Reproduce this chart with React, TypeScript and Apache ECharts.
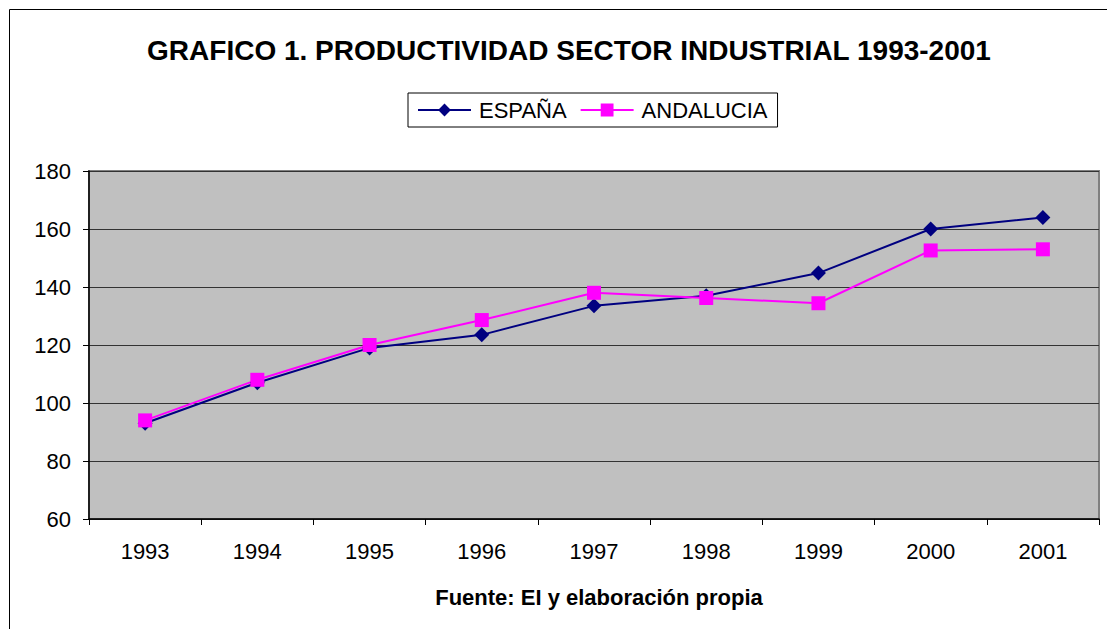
import React, { useEffect, useRef } from "react";
import * as echarts from "echarts";

const years = ["1993", "1994", "1995", "1996", "1997", "1998", "1999", "2000", "2001"];
const espana = [93, 107, 119, 123.5, 133.5, 137, 144.8, 160, 164];
const andalucia = [94, 108, 120, 128.6, 138, 136.2, 134.4, 152.6, 153];
const titleText = "GRAFICO 1. PRODUCTIVIDAD SECTOR INDUSTRIAL 1993-2001";
const footText = "Fuente: EI y elaboración propia";

export default function App() {
  const ref = useRef<HTMLDivElement>(null);
  useEffect(() => {
    const chart = echarts.init(ref.current!, null, { renderer: "svg" });
    const font = "Liberation Sans, Arial, sans-serif";
    chart.setOption({
      animation: false,
      backgroundColor: "#ffffff",
      textStyle: { fontFamily: font },
      title: [
        {
          text: titleText,
          left: 564,
          textAlign: "center",
          top: 31,
          textStyle: { fontSize: 28, fontWeight: "bold", color: "#000", fontFamily: font },
        },
        {
          text: footText,
          left: 594,
          textAlign: "center",
          top: 581,
          textStyle: { fontSize: 22, fontWeight: "bold", color: "#000", fontFamily: font },
        },
      ],
      graphic: [
        {
          type: "rect",
          shape: { x: 9.5, y: 9.5, width: 1120, height: 640 },
          style: { fill: "none", stroke: "#000", lineWidth: 1 },
          silent: true,
        },
      ],
      legend: {
        left: 408,
        top: 93,
        padding: [6, 10, 6, 9],
        borderColor: "#000",
        borderWidth: 1,
        itemWidth: 53,
        itemHeight: 16,
        itemGap: 13,
        textStyle: { fontSize: 22, color: "#000", fontFamily: font, padding: [0, 0, 0, 3] },
        data: ["ESPAÑA", "ANDALUCIA"],
      },
      grid: {
        left: 89,
        top: 171,
        right: 8,
        bottom: 110,
        show: true,
        backgroundColor: "#C0C0C0",
        borderColor: "#808080",
        borderWidth: 2,
      },
      xAxis: {
        type: "category",
        data: years,
        boundaryGap: true,
        axisLine: { show: true, lineStyle: { color: "#000", width: 1.5 } },
        axisTick: { show: true, length: 6, lineStyle: { color: "#000" } },
        axisLabel: { fontSize: 22, color: "#000", margin: 21, fontFamily: font },
        splitLine: { show: false },
      },
      yAxis: {
        type: "value",
        min: 60,
        max: 180,
        interval: 20,
        axisLine: { show: true, lineStyle: { color: "#000", width: 1.5 } },
        axisTick: { show: true, length: 6, lineStyle: { color: "#000" } },
        axisLabel: { fontSize: 22, color: "#000", margin: 18, fontFamily: font },
        splitLine: { show: true, lineStyle: { color: "#333", width: 1 } },
      },
      series: [
        {
          name: "ESPAÑA",
          type: "line",
          data: espana,
          symbol: "diamond",
          symbolSize: 15,
          itemStyle: { color: "#000080" },
          lineStyle: { color: "#000080", width: 2 },
        },
        {
          name: "ANDALUCIA",
          type: "line",
          data: andalucia,
          symbol: "rect",
          symbolSize: 14,
          itemStyle: { color: "#FF00FF" },
          lineStyle: { color: "#FF00FF", width: 2 },
        },
      ],
    });
    return () => chart.dispose();
  }, []);
  return (
    <div
      ref={ref}
      style={{ position: "fixed", left: 0, top: 0, width: 1107, height: 629 }}
    />
  );
}
